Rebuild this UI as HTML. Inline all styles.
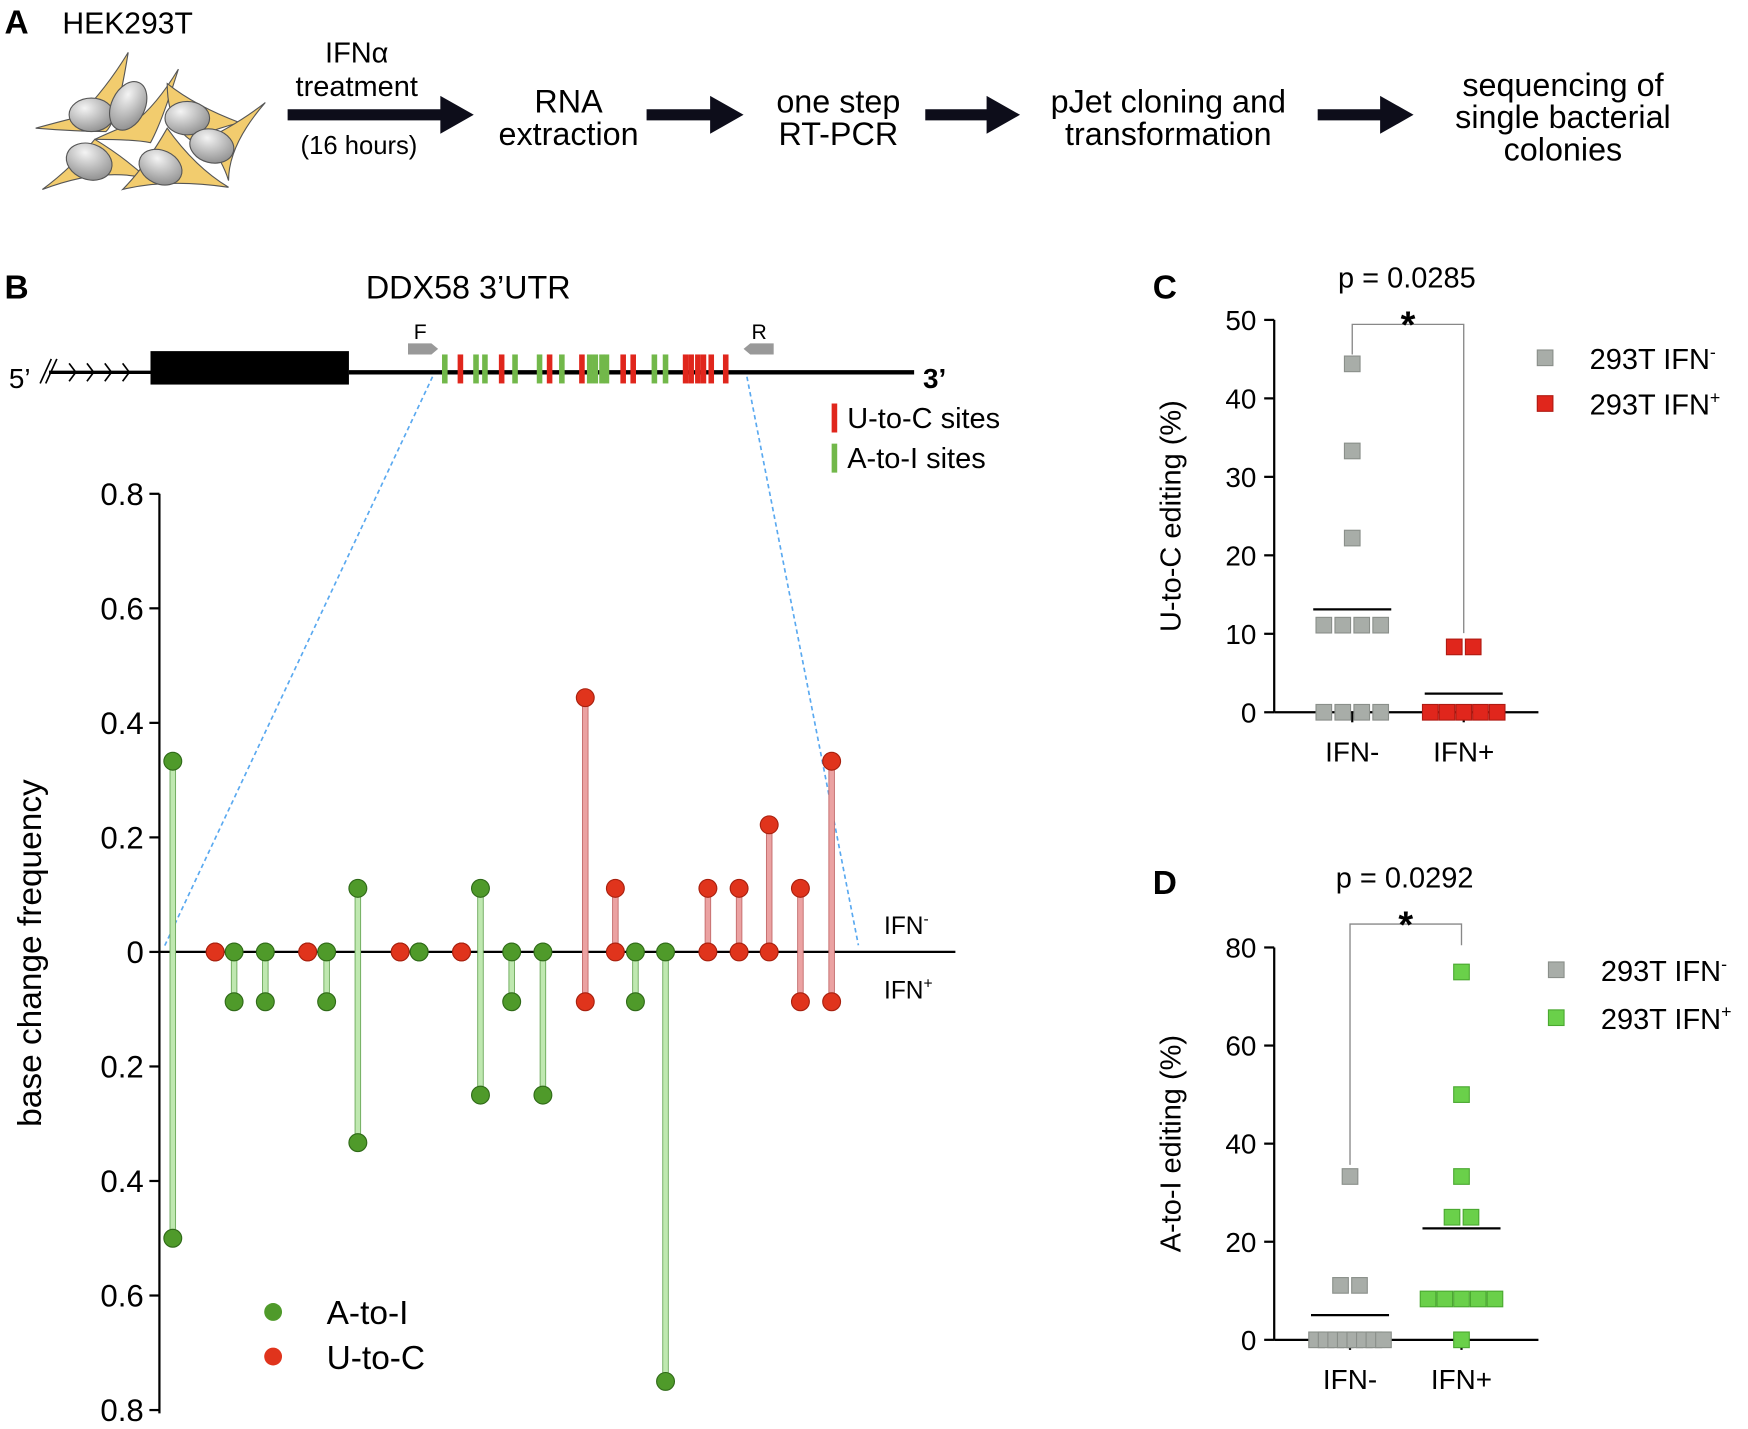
<!DOCTYPE html>
<html><head><meta charset="utf-8"><style>
html,body{margin:0;padding:0;background:#fff;}
svg{display:block;font-family:"Liberation Sans",Arial,sans-serif;}
</style></head><body>
<svg id="fig" width="1748" height="1429" viewBox="0 0 1568 1282" preserveAspectRatio="none" xmlns="http://www.w3.org/2000/svg">
<defs>
<radialGradient id="nuc" cx="0.35" cy="0.3" r="0.8"><stop offset="0" stop-color="#f4f4f4"/><stop offset="1" stop-color="#8a8a8a"/></radialGradient>
</defs>
<g>
<text x="4" y="30" font-size="30" font-weight="bold">A</text>
<text x="56" y="30" font-size="27">HEK293T</text>
<g stroke="#555" stroke-width="1" fill="#f2cc6e">
<path d="M115,47 Q95,80 70,105 Q50,110 32,115 Q70,118 95,118 Q105,110 115,47Z"/>
<path d="M160,62 Q140,95 120,110 Q100,118 85,125 Q120,125 135,128 Q145,110 160,62Z"/>
<path d="M150,75 Q175,95 215,110 Q195,115 170,125 Q150,110 150,75Z"/>
<path d="M238,92 Q215,110 185,125 Q200,145 205,162 Q205,130 238,92Z"/>
<path d="M85,125 Q65,150 38,170 Q90,150 132,160 Q110,140 85,125Z"/>
<path d="M150,115 Q130,150 110,170 Q150,160 205,168 Q175,150 150,115Z"/>
<ellipse cx="82" cy="103" rx="20" ry="15" fill="url(#nuc)"/>
<ellipse cx="115" cy="95" rx="15" ry="23" fill="url(#nuc)" transform="rotate(25 115 95)"/>
<ellipse cx="168" cy="106" rx="20" ry="15" fill="url(#nuc)"/>
<ellipse cx="190" cy="131" rx="20" ry="15" fill="url(#nuc)" transform="rotate(15 190 131)"/>
<ellipse cx="80" cy="145" rx="21" ry="16" fill="url(#nuc)" transform="rotate(20 80 145)"/>
<ellipse cx="144" cy="150" rx="20" ry="15" fill="url(#nuc)" transform="rotate(25 144 150)"/>
</g>
<g font-size="29" text-anchor="middle">
<text x="320" y="56" font-size="26">IFNα</text>
<text x="320" y="86" font-size="26">treatment</text>
<text x="322" y="138" font-size="23">(16 hours)</text>
<text x="510" y="101">RNA</text>
<text x="510" y="130">extraction</text>
<text x="752" y="101">one step</text>
<text x="752" y="130">RT-PCR</text>
<text x="1048" y="101">pJet cloning and</text>
<text x="1048" y="130">transformation</text>
<text x="1402" y="86">sequencing of</text>
<text x="1402" y="115">single bacterial</text>
<text x="1402" y="144">colonies</text>
</g>
<g fill="#0d0d1a">
<path d="M258,98 H395 V86 L425,103 L395,120 V108 H258Z"/>
<path d="M580,98 H637 V86 L667,103 L637,120 V108 H580Z"/>
<path d="M830,98 H885 V86 L915,103 L885,120 V108 H830Z"/>
<path d="M1182,98 H1238 V86 L1268,103 L1238,120 V108 H1182Z"/>
</g>
</g>
<g>
<text x="4" y="268" font-size="30" font-weight="bold">B</text>
<text x="420" y="268" font-size="29" text-anchor="middle">DDX58 3’UTR</text>
<text x="8" y="348" font-size="25">5’</text>
<text x="828" y="348" font-size="25" font-weight="bold">3’</text>
<line x1="44" y1="334" x2="135" y2="334" stroke="#000" stroke-width="3"/>
<g stroke="#000" stroke-width="1.5" fill="none">
<path d="M36,344 L46,322 M41,344 L51,322"/>
<path d="M62,326 L68,334 L62,342 M78,326 L84,334 L78,342 M94,326 L100,334 L94,342 M110,326 L116,334 L110,342"/>
</g>
<line x1="313" y1="334" x2="820" y2="334" stroke="#000" stroke-width="4"/>
<rect x="135" y="315" width="178" height="30" fill="#000"/>
<path d="M366,308 H387 L393,313 L387,318 H366Z" fill="#999"/>
<text x="377" y="304" font-size="19" text-anchor="middle">F</text>
<path d="M694,308 H673 L667,313 L673,318 H694Z" fill="#999"/>
<text x="681" y="304" font-size="19" text-anchor="middle">R</text>
<g id="sites"></g>
<rect x="746" y="362" width="5" height="26" fill="#e0261c"/>
<text x="760" y="384" font-size="26">U-to-C sites</text>
<rect x="746" y="398" width="5" height="26" fill="#72b84a"/>
<text x="760" y="420" font-size="26">A-to-I sites</text>
<line x1="388" y1="338" x2="147" y2="850" stroke="#5aa9f0" stroke-width="1.5" stroke-dasharray="4,3"/>
<line x1="670" y1="338" x2="770" y2="848" stroke="#5aa9f0" stroke-width="1.5" stroke-dasharray="4,3"/>
</g>
<g id="lolli"></g>
<g id="panelC"></g>
<g id="panelD"></g>
</svg>
<script>
const siteX = [399,413,427,435,450,462,484,493,504,522,529,534,540,544,559,568,587,597,615,620,626,631,638,651];
const siteType = ["A","U","A","A","U","A","A","U","A","U","A","A","A","A","U","U","A","A","U","U","U","U","U","U"];
const lolliType = ["A","U","A","A","U","A","A","U","A","U","A","A","A","U","U","A","A","U","U","U","U","U"];
const lolliPos = [155,193,210,238,276,293,321,359,376,414,431,459,487,525,552,570,597,635,663,690,718,746];
const freqIFNminus = [0.333,0,0,0,0,0,0.111,0,0,0,0.111,0,0,0.444,0.111,0,0,0.111,0.111,0.222,0.111,0.333];
const freqIFNplus = [0.5,0,0.087,0.087,0,0.087,0.333,0,0,0,0.25,0.087,0.25,0.087,0,0.087,0.75,0,0,0,0.087,0.087];
const lolliTicks = [0.8,0.6,0.4,0.2,0,-0.2,-0.4,-0.6,-0.8];
const ucIFNminus = [44.4,33.3,22.2,11.1,11.1,11.1,11.1,0,0,0,0];
const ucIFNplus = [8.33,8.33,0,0,0,0,0];
const ucTicks = [0,10,20,30,40,50];
const aiIFNminus = [33.3,11.1,11.1,0,0,0,0,0,0,0,0];
const aiIFNplus = [75,50,33.3,25,25,8.33,8.33,8.33,8.33,8.33,0];
const aiTicks = [0,20,40,60,80];
const groupLabels = ["IFN-","IFN+"];

const NS="http://www.w3.org/2000/svg";
function mk(tag, attrs, parent, txt){const e=document.createElementNS(NS,tag);for(const k in attrs)e.setAttribute(k,attrs[k]);if(txt!==undefined)e.textContent=txt;parent.appendChild(e);return e;}

const sites=document.getElementById('sites');
siteX.forEach((x,i)=>{
  const r=mk('rect',{x:x-2.5,y:318,width:5,height:26,fill:siteType[i]==="U"?"#e0261c":"#72b84a"},sites);
  
  
});

const L=document.getElementById('lolli');
const yZero=854, yUnit=513.75, axX=143;
const yUp=v=>yZero-v*yUnit, yDown=v=>yZero+v*yUnit;
const ax=mk('line',{x1:axX,y1:443,x2:axX,y2:1268,stroke:"#000","stroke-width":2},L);


lolliTicks.forEach(t=>{
  const y=yZero-t*yUnit;
  const tk=mk('line',{x1:axX-9,y1:y,x2:axX,y2:y,stroke:"#000","stroke-width":2},L);
  
  
  const tl=mk('text',{x:axX-14,y:y+10,"font-size":28,"text-anchor":"end"},L,String(Math.abs(t)));
  
  
});
const zl=mk('line',{x1:axX,y1:yZero,x2:857,y2:yZero,stroke:"#000","stroke-width":2},L);


const yt=mk('text',{x:0,y:0,"font-size":30,"text-anchor":"middle",transform:"translate(37,855) rotate(-90)"},L,"base change frequency");


lolliPos.forEach((x,i)=>{
  const isA=lolliType[i]==="A";
  const y1=yUp(freqIFNminus[i]), y2=yDown(freqIFNplus[i]);
  if(y2-y1>1){
    const s=mk('rect',{x:x-2.5,y:y1,width:5,height:y2-y1,fill:isA?"#bfe8b0":"#eba2a2",stroke:isA?"#6aa858":"#c36a6a","stroke-width":0.8},L);
    
    
  }
  [y1,y2].forEach(y=>{
    const c=mk('circle',{cx:x,cy:y,r:8,fill:isA?"#4f9a2a":"#e0341c",stroke:isA?"#2f6a18":"#a8200e","stroke-width":1},L);
    
    
  });
});
const l1=mk('text',{x:793,y:838,"font-size":22},L);l1.innerHTML='IFN<tspan dy="-9" font-size="14">-</tspan>';


const l2=mk('text',{x:793,y:896,"font-size":22},L);l2.innerHTML='IFN<tspan dy="-9" font-size="14">+</tspan>';


const lg1=mk('circle',{cx:245,cy:1177,r:8,fill:"#4f9a2a"},L);


const lg1t=mk('text',{x:293,y:1188,"font-size":30},L,"A-to-I");


const lg2=mk('circle',{cx:245,cy:1217,r:8,fill:"#e0341c"},L);


const lg2t=mk('text',{x:293,y:1228,"font-size":30},L,"U-to-C");



function panel(g,o){
  const yS=v=>o.y0-(v/o.max)*(o.y0-o.yTop);
  const lab=mk('text',{x:1034,y:o.labY,"font-size":30,"font-weight":"bold"},g,o.letter);
  
  
  const pt=mk('text',{x:o.pX,y:o.pY,"font-size":26,"text-anchor":"middle"},g,o.p);
  
  
  const ya=mk('line',{x1:1143,y1:o.yTop,x2:1143,y2:o.y0,stroke:"#000","stroke-width":2},g);
  
  
  const xa=mk('line',{x1:1143,y1:o.y0,x2:1380,y2:o.y0,stroke:"#000","stroke-width":2},g);
  
  
  o.ticks.forEach(t=>{
    const y=yS(t);
    const tk=mk('line',{x1:1134,y1:y,x2:1143,y2:y,stroke:"#000","stroke-width":2},g);
    
    
    const tl=mk('text',{x:1127,y:y+9,"font-size":25,"text-anchor":"end"},g,String(t));
    
    
  });
  const ytt=mk('text',{x:0,y:0,"font-size":26,"text-anchor":"middle",transform:`translate(1059,${(o.yTop+o.y0)/2}) rotate(-90)`},g,o.title);
  
  
  const gx=[o.gx0,o.gx0+100];
  gx.forEach((x,i)=>{
    const tk=mk('line',{x1:x,y1:o.y0,x2:x,y2:o.y0+9,stroke:"#000","stroke-width":2},g);
    
    
    const tl=mk('text',{x:x,y:o.y0+44,"font-size":25,"text-anchor":"middle"},g,groupLabels[i]);
    
    
  });
  [o.a,o.b].forEach((arr,gi)=>{
    const col=gi===0?o.c1:o.c2, cx=gx[gi];
    const groups={};
    arr.forEach(v=>{groups[v]=(groups[v]||0)+1;});
    Object.keys(groups).forEach(k=>{
      const n=groups[k];const sp=n>4?60/(n-1):17;
      for(let j=0;j<n;j++){
        const x=cx+(j-(n-1)/2)*sp;
        const r=mk('rect',{x:x-7,y:yS(+k)-7,width:14,height:14,fill:col.f,stroke:col.s,"stroke-width":1},g);
        
        
      }
    });
    const mean=arr.reduce((s,v)=>s+v,0)/arr.length;
    const ml=mk('line',{x1:cx-35,y1:yS(mean),x2:cx+35,y2:yS(mean),stroke:"#000","stroke-width":2},g);
    
    
  });
  const br=mk('path',{d:`M${gx[0]},${o.brL} V${o.brTop} H${gx[1]} V${o.brR}`,fill:"none",stroke:"#888","stroke-width":1.2},g);
  
  
  const st=mk('text',{x:(gx[0]+gx[1])/2,y:o.brTop+12,"font-size":34,"font-weight":"bold","text-anchor":"middle"},g,"*");
  
  
  [[o.c1,"-"],[o.c2,"+"]].forEach((e,i)=>{
    const y=o.legY+i*o.legSp;
    const sq=mk('rect',{x:o.legX-7,y:y-7,width:14,height:14,fill:e[0].f,stroke:e[0].s,"stroke-width":1},g);
    
    
    const t=mk('text',{x:o.legX+40,y:y+10,"font-size":26},g);
    t.innerHTML='293T IFN<tspan dy="-10" font-size="16">'+e[1]+'</tspan>';
    
    
  });
}
const gray={f:"#a8ada8",s:"#8a8f8a"};
panel(document.getElementById('panelC'),{letter:"C",labY:268,p:"p = 0.0285",pX:1262,pY:258,yTop:287,y0:639,max:50,ticks:ucTicks,
  title:"U-to-C editing (%)",gx0:1213,a:ucIFNminus,b:ucIFNplus,c1:gray,c2:{f:"#e0261c",s:"#b01a12"},brL:318,brTop:291,brR:568,legX:1386,legY:321,legSp:41});
panel(document.getElementById('panelD'),{letter:"D",labY:802,p:"p = 0.0292",pX:1260,pY:796,yTop:850,y0:1202,max:80,ticks:aiTicks,
  title:"A-to-I editing (%)",gx0:1211,a:aiIFNminus,b:aiIFNplus,c1:gray,c2:{f:"#6ad04a",s:"#4aa830"},brL:1045,brTop:829,brR:848,legX:1396,legY:870,legSp:43});
</script>
</body></html>
